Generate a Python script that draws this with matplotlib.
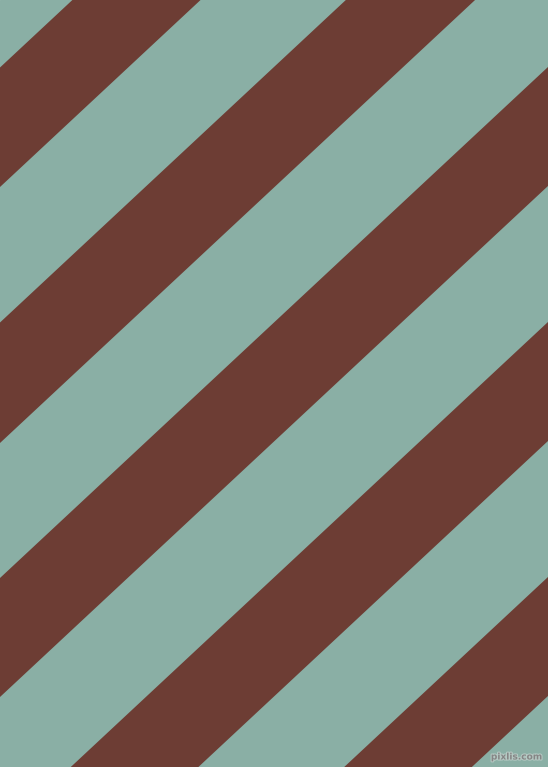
import math
import matplotlib
matplotlib.use("Agg")
import matplotlib.pyplot as plt
import matplotlib.patheffects as pe

# stripe geometry (pixels)
angle = 43  # degrees, stripes rise to the right
brown_starts = [67.5, 322.5, 578, 833, 1088]   # value of y + tan(a)*x at stripe start
brown_ends = [187, 443, 697, 952, 1207]
teal = "#8aafa5"
brown = "#6d3d34"
W, H = 548, 767

s = math.tan(math.radians(angle))

fig = plt.figure(figsize=(W / 100, H / 100), dpi=100)
ax = fig.add_axes([0, 0, 1, 1])
ax.set_xlim(0, W)
ax.set_ylim(H, 0)
ax.axis("off")
ax.add_patch(plt.Rectangle((0, 0), W, H, color=teal, zorder=0))

x0, x1 = -50, W + 50
for c0, c1 in zip(brown_starts, brown_ends):
    xs = [x0, x1, x1, x0]
    ys = [c0 - s * x0, c0 - s * x1, c1 - s * x1, c1 - s * x0]
    ax.fill(xs, ys, color=brown, linewidth=0, zorder=1)

ax.text(542, 757, "pixlis.com", fontsize=6.5, color="#858585", ha="right", va="center",
        fontweight="bold", zorder=2,
        path_effects=[pe.withStroke(linewidth=1.5, foreground="#b5c9c3")])

fig.savefig("out.png", dpi=100)
